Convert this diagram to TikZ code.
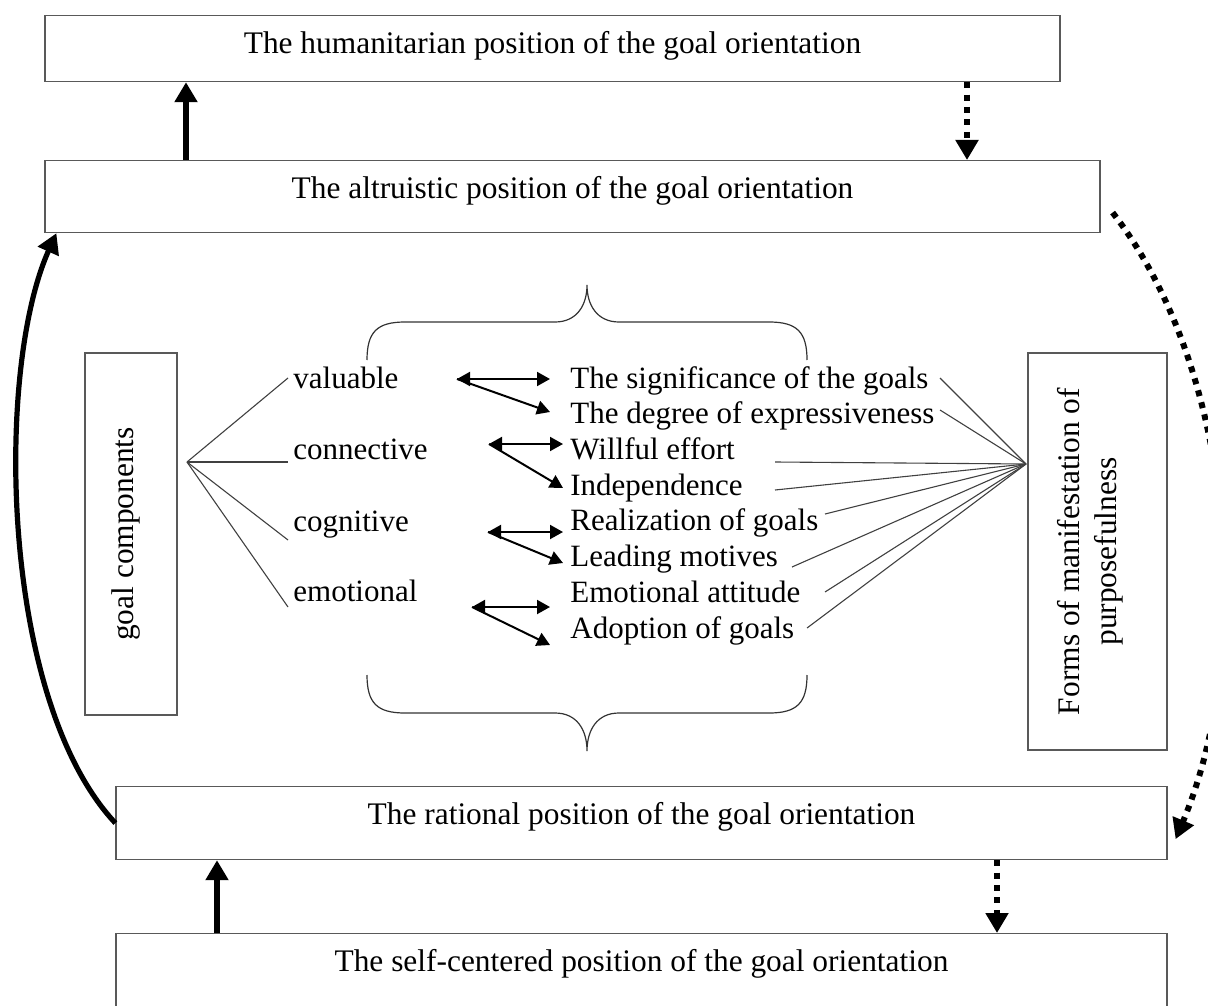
\documentclass[tikz,border=0pt]{standalone}
\usepackage{fontspec}
\setmainfont{Liberation Serif}
\usetikzlibrary{arrows.meta}
\begin{document}
\begin{tikzpicture}[x=0.5pt, y=-0.5pt]
        \tikzstyle{posbox}=[draw=black!65, line width=0.6pt, anchor=north, inner xsep=0pt, inner ysep=0pt, text height=19pt, font=\fontsize{15.7}{18.5}\selectfont]
        \tikzstyle{sidebox}=[draw=black!65, line width=0.6pt, rotate=90, align=center, font=\fontsize{15.7}{18.5}\selectfont]
        \tikzstyle{item}=[anchor=base west, inner sep=0pt, font=\fontsize{15.5}{18.5}\selectfont]
        \tikzstyle{fan}=[draw=black!75, line width=0.55pt]
        \tikzstyle{pair}=[line width=1pt, {Triangle[length=6.5pt,width=7pt]}-{Triangle[length=6.5pt,width=7pt]}]
        \tikzstyle{pairone}=[line width=1pt, -{Triangle[length=6.5pt,width=7pt]}]
        \tikzstyle{bigarrow}=[line width=2.6pt, -{Triangle[length=10pt,width=11pt]}]
        \tikzstyle{dotarrow}=[bigarrow, line width=3pt, dash pattern=on 3pt off 3.2pt]
        \tikzstyle{brace}=[draw=black!80, line width=0.6pt]

        \useasboundingbox (0,0) rectangle (1208,1005);

        % positions of the goal orientation
        \node (hum)[posbox, minimum width=507.5pt, text depth=14pt] at (552.5,15) {The humanitarian position of the goal orientation};
        \node (alt)[posbox, minimum width=527.5pt, text depth=17pt] at (572.5,160) {The altruistic position of the goal orientation};
        \node (rat)[posbox, minimum width=525.5pt, text depth=17.5pt] at (641.5,786) {The rational position of the goal orientation};
        \node (self)[posbox, minimum width=525.5pt, text depth=50pt] at (641.5,933) {The self-centered position of the goal orientation};

        % side boxes
        \node (goal)[sidebox, minimum width=181pt, minimum height=46pt, text depth=8.5pt] at (131,534) {goal components};
        \node (forms)[sidebox, minimum width=198.5pt, minimum height=69.5pt, text depth=11pt] at (1097.5,551.5) {Forms of manifestation of\\purposefulness};

        % components
        \node (val)[item] at (293,388) {valuable};
        \node (con)[item] at (293,459) {connective};
        \node (cog)[item] at (293,531) {cognitive};
        \node (emo)[item] at (293,601) {emotional};

        % forms of manifestation
        \node (sig)[item] at (570,388) {The significance of the goals};
        \node (deg)[item] at (570,423) {The degree of expressiveness};
        \node (will)[item] at (570,459) {Willful effort};
        \node (ind)[item] at (570,495) {Independence};
        \node (real)[item] at (570,530) {Realization of goals};
        \node (lead)[item] at (570,566) {Leading motives};
        \node (att)[item] at (570,602) {Emotional attitude};
        \node (adop)[item] at (570,638) {Adoption of goals};

        % braces
        \draw[brace] (367,360) .. controls (367,332) and (377,322) .. (405,322) -- (555,322) .. controls (577,322) and (587,305) .. (587,285) .. controls (587,305) and (597,322) .. (619,322) -- (769,322) .. controls (797,322) and (807,332) .. (807,360);
        \draw[brace] (367,675) .. controls (367,703) and (377,713) .. (405,713) -- (555,713) .. controls (577,713) and (587,730) .. (587,751) .. controls (587,730) and (597,713) .. (619,713) -- (769,713) .. controls (797,713) and (807,703) .. (807,675);

        % fans
        \coordinate (hubL) at (187,462);
        \coordinate (hubR) at (1026,464);
        \coordinate (fv) at (288,378);
        \coordinate (fc) at (288,462);
        \coordinate (fg) at (288,540);
        \coordinate (fe) at (288,607);
        \draw[fan] (hubL) -- (fv);
        \draw[fan] (hubL) -- (fc);
        \draw[fan] (hubL) -- (fg);
        \draw[fan] (hubL) -- (fe);

        \coordinate (rs) at (940,378);
        \coordinate (rd) at (940,410);
        \coordinate (rw) at (775,462);
        \coordinate (ri) at (775,490);
        \coordinate (rr) at (825,514);
        \coordinate (rl) at (792,567);
        \coordinate (ra) at (825,592);
        \coordinate (rp) at (807,628);
        \draw[fan] (hubR) -- (rs);
        \draw[fan] (hubR) -- (rd);
        \draw[fan] (hubR) -- (rw);
        \draw[fan] (hubR) -- (ri);
        \draw[fan] (hubR) -- (rr);
        \draw[fan] (hubR) -- (rl);
        \draw[fan] (hubR) -- (ra);
        \draw[fan] (hubR) -- (rp);

        % double arrows
        \coordinate (vL) at (457,379); \coordinate (vR) at (550,379); \coordinate (vD) at (550,412);
        \coordinate (cL) at (489,444); \coordinate (cR) at (563,444); \coordinate (cD) at (563,488);
        \coordinate (gL) at (488,532); \coordinate (gR) at (563,532); \coordinate (gD) at (563,563);
        \coordinate (eL) at (472,607); \coordinate (eR) at (550,607); \coordinate (eD) at (550,645);
        \draw[pair] (vL) -- (vR);
        \draw[pairone] (vL) -- (vD);
        \draw[pair] (cL) -- (cR);
        \draw[pairone] (cL) -- (cD);
        \draw[pair] (gL) -- (gR);
        \draw[pairone] (gL) -- (gD);
        \draw[pair] (eL) -- (eR);
        \draw[pairone] (eL) -- (eD);

        % transitions between positions
        \coordinate (u1) at (186,0);
        \coordinate (d1) at (967,0);
        \coordinate (u2) at (217,0);
        \coordinate (d2) at (997,0);
        \draw[bigarrow] (alt.north -| u1) -- (hum.south -| u1);
        \draw[dotarrow] (hum.south -| d1) -- (alt.north -| d1);
        \draw[bigarrow] (self.north -| u2) -- (rat.south -| u2);
        \draw[dotarrow] (rat.south -| d2) -- (self.north -| d2);

        \draw[bigarrow] (rat.west) .. controls (0,700) and (-5,370) .. ([xshift=6pt]alt.south west);
        \draw[dotarrow] ([shift={(6pt,-8pt)}]alt.east) .. controls (1235,370) and (1255,650) .. ([shift={(4pt,-8pt)}]rat.east);
    \end{tikzpicture}
\end{document}
